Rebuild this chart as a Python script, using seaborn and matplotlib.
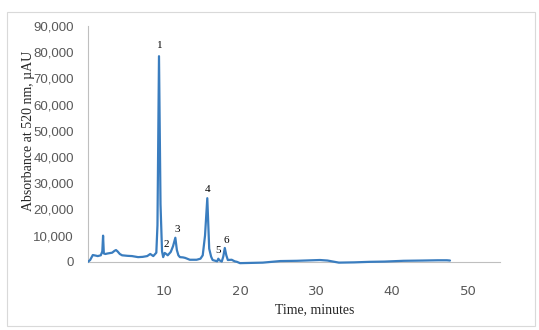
import pandas as pd
import matplotlib.pyplot as plt
import matplotlib.ticker as mticker
from matplotlib.patches import Rectangle
import seaborn as sns

# chromatogram trace (time in minutes, absorbance in uAU)
time_min = [0.0, 0.3, 0.65, 1.0, 1.3, 1.7, 1.9, 2.0, 2.1, 2.3, 2.6, 3.2, 3.5, 3.7, 3.9,
            4.2, 4.5, 5.2, 5.8, 6.6, 7.2, 7.8, 8.2, 8.6, 9.0, 9.15, 9.35, 9.55, 9.75, 9.9,
            10.1, 10.3, 10.5, 10.9, 11.2, 11.5, 11.7, 11.9, 12.1, 12.5, 12.8, 13.4, 14.3,
            14.8, 15.1, 15.4, 15.7, 15.95, 16.2, 16.4, 17.0, 17.15, 17.3, 17.6, 17.8, 18.0,
            18.2, 18.4, 18.9, 19.3, 19.6, 20.0, 21.5, 23.0, 25.3, 27.5, 30.5, 31.5, 33.0,
            35.0, 37.0, 39.0, 41.5, 44.0, 46.0, 47.2, 47.6]
absorbance = [0, 700, 2600, 2400, 2200, 2500, 4000, 10000, 3200, 3000, 3200, 3500, 4200,
              4500, 4000, 3000, 2500, 2300, 2200, 1800, 1900, 2200, 3000, 2200, 3500, 14000,
              78500, 22000, 4000, 1800, 3400, 3000, 2500, 3800, 6000, 9200, 4500, 2500, 1800,
              1700, 1500, 800, 800, 1200, 2500, 10000, 24300, 5000, 2000, 700, 200, 1200,
              600, 100, 2000, 5300, 2500, 700, 800, 200, 0, -500, -400, -300, 300, 400, 700,
              500, -300, -200, 0, 100, 400, 500, 600, 600, 500]

peak_ids = ["1", "2", "3", "4", "5", "6"]
peak_x = [9.5, 10.3, 11.7, 15.7, 17.1, 18.2]
peak_y = [82700, 6800, 12400, 27500, 4500, 8300]

df = pd.DataFrame({"Time": time_min, "Absorbance": absorbance})

sns.set_style("white")
fig = plt.figure(figsize=(5.39, 3.30), dpi=100)
ax = fig.add_axes([0.163, 0.197, 0.765, 0.724])

sns.lineplot(data=df, x="Time", y="Absorbance", ax=ax, color="#3A7DBF", linewidth=1.6,
             zorder=3)

for lab, px, py in zip(peak_ids, peak_x, peak_y):
    ax.text(px, py, lab, ha="center", va="center", fontsize=8, family="Liberation Serif",
            color="black")

ax.set_xlim(0, 54.2)
ax.set_ylim(-1200, 90000)
ax.set_xticks([10, 20, 30, 40, 50])
ax.set_yticks(range(0, 90001, 10000))
ax.yaxis.set_major_formatter(mticker.FuncFormatter(lambda v, p: f"{int(v):,}"))
ax.tick_params(length=0, labelsize=9.5, labelcolor="#595959")
ax.tick_params(axis="x", pad=17)
ax.tick_params(axis="y", pad=10)
for t in ax.get_xticklabels() + ax.get_yticklabels():
    t.set_family("Liberation Sans")

for side in ["top", "right"]:
    ax.spines[side].set_visible(False)
ax.spines["bottom"].set_position(("data", 0))
ax.spines["bottom"].set_color("#BFBFBF")
ax.spines["left"].set_color("#BFBFBF")
ax.spines["left"].set_bounds(0, 90000)

ax.set_xlabel("Time, minutes", family="Liberation Serif", fontsize=10)
ax.set_ylabel("Absorbance at 520 nm, \u00b5AU", family="Liberation Serif", fontsize=10)
ax.xaxis.set_label_coords(0.549, -0.158)
ax.yaxis.set_label_coords(-0.128, 0.56)

fig.patches.append(Rectangle((0.013, 0.012), 0.98, 0.952, transform=fig.transFigure,
                             fill=False, edgecolor="#D9D9D9", linewidth=0.8))

fig.savefig("out.png", dpi=100)
